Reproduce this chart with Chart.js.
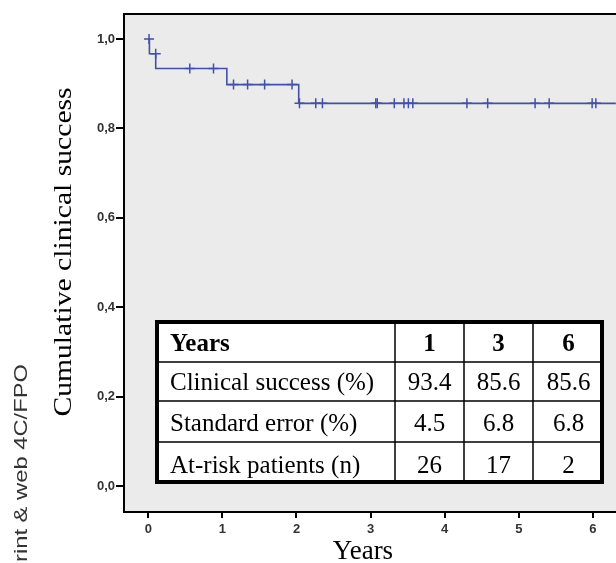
<!DOCTYPE html>
<html>
<head>
<meta charset="utf-8">
<script src="https://cdn.jsdelivr.net/npm/chart.js@4/dist/chart.umd.min.js"></script>
<style>
  body { margin: 0; background: #fff; }
  canvas { display: block; }
</style>
</head>
<body>
<canvas id="kmchart" width="616" height="563"></canvas>
<script>
// Kaplan-Meier steps (time in years, cumulative success)
const kmTimes = [0, 0.015, 0.10, 1.06, 2.03, 6.31]
const kmSurvival = [1.0, 0.967, 0.934, 0.898, 0.856, 0.856]

// censored observations
const censorTimes = [0.01, 0.10, 0.56, 0.88, 1.15, 1.34, 1.57, 1.94,
    2.04, 2.26, 2.35, 3.07, 3.09, 3.32, 3.45, 3.51, 3.57, 4.30, 4.58, 5.22, 5.41, 5.99, 6.04]
const censorSurvival = [1.0, 0.967, 0.934, 0.934, 0.898, 0.898, 0.898, 0.898,
    0.856, 0.856, 0.856, 0.856, 0.856, 0.856, 0.856, 0.856, 0.856, 0.856, 0.856, 0.856, 0.856, 0.856, 0.856]

const xTicks = [0, 1, 2, 3, 4, 5, 6]
const yTicks = [0, 0.2, 0.4, 0.6, 0.8, 1.0]

// inset table
const tableYears = [1, 3, 6]
const tableRowLabels = ['Clinical success (%)', 'Standard error (%)', 'At-risk patients (n)']
const clinicalSuccess = [93.4, 85.6, 85.6]
const standardError = [4.5, 6.8, 6.8]
const atRiskPatients = [26, 17, 2]

const blue = '#4250a8'

const decor = {
    id: 'decor',
    beforeDraw(chart) {
        const { ctx, chartArea: a } = chart
        ctx.save()
        ctx.fillStyle = '#ebebeb'
        ctx.fillRect(a.left, a.top, a.right - a.left, a.bottom - a.top)
        ctx.restore()
    },
    afterDraw(chart) {
        const { ctx, chartArea: a } = chart
        ctx.save()
        // top frame line
        ctx.strokeStyle = '#000'
        ctx.lineWidth = 2
        ctx.beginPath()
        ctx.moveTo(a.left - 1, a.top)
        ctx.lineTo(a.right, a.top)
        ctx.stroke()

        // axis titles
        ctx.fillStyle = '#000'
        ctx.font = '27px "Liberation Serif", "Times New Roman", serif'
        ctx.textAlign = 'center'
        ctx.textBaseline = 'alphabetic'
        ctx.fillText('Years', 363, 559)

        ctx.save()
        ctx.translate(71, 252)
        ctx.rotate(-Math.PI / 2)
        ctx.scale(1.14, 1)
        ctx.font = '26px "Liberation Serif", "Times New Roman", serif'
        ctx.fillText('Cumulative clinical success', 0, 0)
        ctx.restore()

        // print note on the left edge
        ctx.save()
        ctx.font = '19px "Liberation Sans", Arial, sans-serif'
        ctx.fillStyle = '#333'
        const pw = ctx.measureText('P').width * 1.25
        ctx.translate(27, 562 + pw)
        ctx.rotate(-Math.PI / 2)
        ctx.scale(1.25, 1)
        ctx.textAlign = 'left'
        ctx.fillText('Print & web 4C/FPO', 0, 0)
        ctx.restore()

        // table
        const tx = [155, 395, 464, 533, 604]
        const ty = [320, 362, 401, 442, 484]
        ctx.fillStyle = '#fff'
        ctx.fillRect(tx[0], ty[0], tx[4] - tx[0], ty[4] - ty[0])
        ctx.strokeStyle = '#000'
        ctx.lineWidth = 1.5
        ctx.beginPath()
        for (let i = 1; i < 4; i++) {
            ctx.moveTo(tx[i], ty[0]); ctx.lineTo(tx[i], ty[4])
            ctx.moveTo(tx[0], ty[i]); ctx.lineTo(tx[4], ty[i])
        }
        ctx.stroke()
        ctx.lineWidth = 4
        ctx.strokeRect(tx[0] + 2, ty[0] + 2, tx[4] - tx[0] - 4, ty[4] - ty[0] - 4)

        const rows = [
            ['Years'].concat(tableYears.map(String)),
            [tableRowLabels[0]].concat(clinicalSuccess.map(v => v.toFixed(1))),
            [tableRowLabels[1]].concat(standardError.map(v => v.toFixed(1))),
            [tableRowLabels[2]].concat(atRiskPatients.map(String))
        ]
        ctx.fillStyle = '#000'
        rows.forEach((row, r) => {
            ctx.font = (r === 0 ? 'bold ' : '') + '25px "Liberation Serif", "Times New Roman", serif'
            const base = ty[r + 1] - 11
            row.forEach((cell, c) => {
                if (c === 0) {
                    ctx.textAlign = 'left'
                    ctx.fillText(cell, 170, base)
                } else {
                    ctx.textAlign = 'center'
                    ctx.fillText(cell, (tx[c] + tx[c + 1]) / 2, base)
                }
            })
        })
        ctx.restore()
    }
}

const tickFont = { family: 'Arial, "Liberation Sans", sans-serif', size: 13, weight: 'bold' }

new Chart(document.getElementById('kmchart'), {
    type: 'scatter',
    data: {
        datasets: [{
            label: 'Cumulative clinical success',
            data: kmTimes.map((t, i) => ({ x: t, y: kmSurvival[i] })),
            showLine: true,
            stepped: 'before',
            borderColor: blue,
            borderWidth: 1.6,
            pointRadius: 0
        }, {
            label: 'Censored',
            data: censorTimes.map((t, i) => ({ x: t, y: censorSurvival[i] })),
            showLine: false,
            pointStyle: 'cross',
            pointRadius: 5,
            borderColor: blue,
            borderWidth: 1.5,
            backgroundColor: blue
        }]
    },
    options: {
        responsive: false,
        animation: false,
        layout: { autoPadding: false, padding: { top: 14, left: 0, right: 0, bottom: 0 } },
        plugins: {
            legend: { display: false },
            tooltip: { enabled: false }
        },
        scales: {
            x: {
                type: 'linear',
                min: -0.328,
                max: 6.312,
                afterBuildTicks: s => { s.ticks = xTicks.map(v => ({ value: v })) },
                afterFit: s => { s.height = 51; s.paddingLeft = 0; s.paddingRight = 0 },
                border: { color: '#000', width: 2 },
                grid: { drawOnChartArea: false, tickLength: 6, color: '#000', lineWidth: 2 },
                ticks: { padding: 4, font: tickFont, color: '#333', maxRotation: 0 }
            },
            y: {
                type: 'linear',
                min: -0.0582,
                max: 1.0559,
                afterBuildTicks: s => { s.ticks = yTicks.map(v => ({ value: v })) },
                afterFit: s => { s.width = 124; s.paddingTop = 0; s.paddingBottom = 0 },
                border: { color: '#000', width: 2 },
                grid: { drawOnChartArea: false, tickLength: 8, color: '#000', lineWidth: 2 },
                ticks: { padding: 1, font: tickFont, color: '#333', callback: v => v.toFixed(1).replace('.', ',') }
            }
        }
    },
    plugins: [decor]
})
</script>
</body>
</html>
